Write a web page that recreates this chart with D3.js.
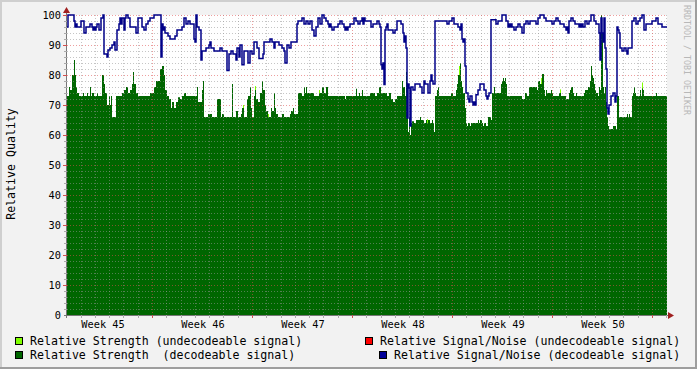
<!DOCTYPE html>
<html><head><meta charset="utf-8">
<script src="https://cdn.jsdelivr.net/npm/d3@7"></script>
<style>html,body{margin:0;padding:0;background:#f2f2f2;}svg{display:block;}</style>
</head><body><svg id="c" width="697" height="369"></svg>
<script>
// ---- data (sample index = one RRD step of 1.68 h from the start time) ----
const startTime = Date.UTC(2023, 10, 7, 1, 12);
const sampleHours = 1.68;
const sampleCount = 600;

const strengthAt = [0,2,3,5,7,8,9,10,12,16,17,20,21,23,24,25,27,30,31,35,37,38,40,42,43,44,45,49,55,57,59,61,63,65,66,67,69,71,83,87,89,93,95,97,98,100,102,104,105,107,109,111,113,115,117,119,130,131,135,136,137,141,145,150,154,155,157,165,166,169,171,174,175,177,180,181,183,184,185,187,188,189,191,193,195,196,198,199,201,204,205,207,208,209,211,215,217,223,224,226,227,231,235,237,238,239,240,247,252,255,257,259,261,278,279,289,290,292,293,295,296,303,308,310,312,314,320,322,324,326,328,330,335,336,338,339,340,341,342,343,344,345,347,349,353,354,357,359,360,361,363,365,366,367,368,370,371,372,384,386,389,390,391,393,394,395,396,398,399,400,401,403,404,411,412,413,415,416,417,419,421,424,425,427,428,434,435,436,437,438,439,440,455,458,460,462,470,471,473,475,477,478,479,480,484,485,486,492,494,495,499,502,503,504,506,507,509,510,517,518,521,523,524,525,526,527,528,529,531,532,533,534,535,536,537,538,539,540,541,542,546,549,550,552,560,561,562,563,565,566,567,568,569,573,574,575,576,577,589,590];
const strengthVal = [73,76,75,80,85,80,76,74,73,74,73,74,73,76,73,74,73,74,73,80,77,74,70,73,70,73,66,73,74,75,76,74,75,77,81,77,74,73,74,76,78,82,83,80,75,73,72,69,71,69,71,72.6,72,73,74,73,76,71,75,78,66,67,66,72,66,67,66,77,66,68,66,67,69,66,72,73,76,69,66,73,75,72,71,74,78,75,70,68,66,69,68,74,69,67,66,67,66,67,68,69,67,74,73,76,74,76,74,73,74,76,74,76,73,72,73,75.4,73,74,73,75,73,74,73,74,76,74,73,74,72,71,72,73,78,76,73,81,69,61,66,60,64,64.6,64,65,66,65,64,65,64,65,64,65,64,61,73,75,76,73,74,73,75,77,80,84,78,76,74,69,64,63,64,63,64,65,64,65,64,63,64,63,66,65,74,76,74,77,78,79,78,79,77,73,72,74,73,76,75,78,77,80.3,75,73,75,74,75,74,73,74,73,73,72,74,75,76,74,73,74,73,74,75,76,78,83,80,79,77,75,74,73,76,75,100,94,76,74,76,71,66,63,62,63,62,73,66,67,66,67,66,73,74,76,74,73,75,73,75.5,75,73,74,73];

const weakAt  = [176, 188, 201, 252, 360, 392, 474, 493, 575];
const weakVal = [70, 76.3, 67, 75, 65.3, 83, 79, 75.2, 77.5];

const snrAt = [0,1,7,8,9,10,14,17,19,23,25,26,27,28,29,30,32,34,36,37,40,41,43,45,47,48,50,52,53,54,55,57,58,59,61,63,69,71,75,77,79,81,83,87,94,95,96,97,98,101,103,108,110,115,117,119,121,123,127,128,129,130,132,134,135,139,142,143,144,147,153,155,160,162,164,166,169,170,172,173,175,177,181,183,185,187,190,192,196,197,203,205,207,208,212,215,217,218,220,222,224,230,231,235,237,239,241,243,245,247,249,251,253,255,257,259,261,262,263,264,265,267,271,273,275,277,278,279,280,281,283,287,289,291,293,295,296,297,298,304,306,310,312,313,314,315,316,317,318,319,320,321,326,328,330,334,336,337,338,339,340,341,342,343,344,346,348,353,355,357,358,361,363,364,365,366,368,380,382,385,387,391,393,394,395,396,397,398,399,401,402,403,405,406,407,408,409,411,413,417,419,420,421,422,424,429,431,435,439,441,442,443,444,445,447,449,451,453,455,457,459,461,463,469,471,473,477,479,485,487,489,491,493,497,499,500,501,502,504,506,508,512,513,514,515,516,518,520,522,524,527,529,532,533,534,535,536,537,538,539,540,541,542,544,546,548,549,550,551,552,553,555,557,559,560,561,565,567,569,571,573,575,577,579,585,589,591,595];
const snrVal = [96,100,98,96,97,96,98,94,96,97,96,95,96,95,96,97,95,99,100,87,86,88.3,89,90,91,88.3,95,97,99,97,99,95,99,100,99,96,94,99,96,95,97,98,99,100,86,97,95,96,94,93,92,93,95,96,99,97,98,97,92,91,100,96,95,85,88,89,90,91,89,88,89,88,81.5,87,88,87,85,89,86,90,83.4,88,84,88,87,91,89,85.5,87,91,92,91,89,91,90,89,88,84,90,89,91,97,98,99,97,98,97,98,95,93,96,99,97,100,99,98,97,96,97,96,95,96,97,98,97,96,95,96,95,96,97,99,98,97,98,99,97,99,98,96,97,98,97,96,83.4,82,84,76.8,95,96,97,95,94,95,98,97,94,91,93,89,65.7,77,75.7,63,76,75,77,76,74,78,77,74,78,80,78,77,98,97,98,99,97,96,95,97,92,91,92,83,74,72,71,73,71,70,71,70,73.4,75,77,75,73,72,73,74,98.4,97,98,100,98,96,97,96,97,96,95,96,97,96,94,97,98,97,98,97,99,100,99,98,97,98,99,98,97,96,95,96,94,98,99,98,97,96,97,96,97,96,98,97,98,100,98,97,94,85,99,94,91,99,89,82,69,67,70,73,74,71,73,96,95,94,89,88,89,88,87,89,98,99,97,98,99,100,95,97,98,99,97,96];

const yTickValues = [0,10,20,30,40,50,60,70,80,90,100];
const legendItems = [
  {label: "Relative Strength (undecodeable signal)", color: "#80ff00", col: 0, row: 0},
  {label: "Relative Signal/Noise (undecodeable signal)", color: "#ff0000", col: 1, row: 0},
  {label: "Relative Strength  (decodeable signal)", color: "#006600", col: 0, row: 1},
  {label: "Relative Signal/Noise (decodeable signal)", color: "#000099", col: 2, row: 1}
];
const yTitle = "Relative Quality";
const watermark = "RRDTOOL / TOBI OETIKER";

// ---- helpers ----
const HOUR = 3600e3;
const t = i => new Date(startTime + i * sampleHours * HOUR);
function steps(at, val) {
  const pts = at.map((a, k) => ({i: a, v: val[k]}));
  pts.push({i: sampleCount, v: val[val.length - 1]});
  return pts;
}

const svg = d3.select("#c");
const W = 697, H = 369;
const L = 67, R = 667, T = 15, B = 315;
const x = d3.scaleUtc().domain([t(0), t(sampleCount)]).range([L, R]);
const y = d3.scaleLinear().domain([0, 100]).range([B, T]);
const FONT = "'DejaVu Sans Mono', monospace";

// background + frame
svg.append("rect").attr("width", W).attr("height", H).attr("fill", "#f2f2f2");
svg.append("rect").attr("x", 0).attr("y", 0).attr("width", W).attr("height", 2).attr("fill", "#cfcfcf");
svg.append("rect").attr("x", 0).attr("y", 0).attr("width", 2).attr("height", H).attr("fill", "#cfcfcf");
svg.append("rect").attr("x", 0).attr("y", H - 2).attr("width", W).attr("height", 2).attr("fill", "#9e9e9e");
svg.append("rect").attr("x", W - 2).attr("y", 0).attr("width", 2).attr("height", H).attr("fill", "#9e9e9e");

// canvas
svg.append("rect").attr("x", L).attr("y", T).attr("width", R - L).attr("height", B - T).attr("fill", "#ffffff");

// undecodeable strength (underneath)
svg.append("g").selectAll("rect").data(weakAt.map((a, k) => ({i: a, v: weakVal[k]}))).join("rect")
  .attr("x", d => x(t(d.i))).attr("width", d => x(t(d.i + 1)) - x(t(d.i)))
  .attr("y", d => y(d.v)).attr("height", d => y(0) - y(d.v)).attr("fill", "#80ff00");

// decodeable strength area
const area = d3.area().curve(d3.curveStepAfter)
  .x(d => x(t(d.i))).y0(y(0)).y1(d => y(d.v));
svg.append("path").datum(steps(strengthAt, strengthVal)).attr("d", area).attr("fill", "#006600");

// grid
const grid = svg.append("g").attr("shape-rendering", "crispEdges");
const minorY = d3.range(2, 100, 2).filter(v => v % 10 !== 0);
const majorY = yTickValues.filter(v => v > 0);
const days = d3.utcDay.range(t(0), t(sampleCount)).filter(d => d.getUTCDay() !== 1);
const mondays = d3.utcMonday.range(t(0), t(sampleCount));
const gridCol = "rgba(150,150,150,0.55)", mgridCol = "rgba(222,79,79,0.55)";
grid.selectAll(".hy").data(minorY).join("line")
  .attr("x1", L).attr("x2", R).attr("y1", d => Math.round(y(d)) + 0.5).attr("y2", d => Math.round(y(d)) + 0.5)
  .attr("stroke", gridCol).attr("stroke-dasharray", "1,2");
grid.selectAll(".vx").data(days).join("line")
  .attr("y1", T).attr("y2", B).attr("x1", d => Math.round(x(d)) + 0.5).attr("x2", d => Math.round(x(d)) + 0.5)
  .attr("stroke", gridCol).attr("stroke-dasharray", "1,2");
grid.selectAll(".my").data(majorY).join("line")
  .attr("x1", L).attr("x2", R).attr("y1", d => Math.round(y(d)) + 0.5).attr("y2", d => Math.round(y(d)) + 0.5)
  .attr("stroke", mgridCol).attr("stroke-dasharray", "1,2");
grid.selectAll(".mx").data(mondays).join("line")
  .attr("y1", T).attr("y2", B).attr("x1", d => Math.round(x(d)) + 0.5).attr("x2", d => Math.round(x(d)) + 0.5)
  .attr("stroke", mgridCol).attr("stroke-dasharray", "1,2");

// SNR line
const line = d3.line().curve(d3.curveStepAfter).x(d => x(t(d.i))).y(d => y(d.v));
svg.append("path").datum(steps(snrAt, snrVal)).attr("d", line)
  .attr("fill", "none").attr("stroke", "#000088").attr("stroke-width", 1.5);

// axes
const ax = svg.append("g").attr("shape-rendering", "crispEdges");
ax.append("line").attr("x1", L - 0.5).attr("x2", L - 0.5).attr("y1", B + 3).attr("y2", T - 4).attr("stroke", "#777");
ax.append("line").attr("x1", L - 3).attr("x2", R + 3).attr("y1", B + 0.5).attr("y2", B + 0.5).attr("stroke", "#777");
ax.selectAll(".ty").data(minorY).join("line")
  .attr("x1", L - 3).attr("x2", L).attr("y1", d => Math.round(y(d)) + 0.5).attr("y2", d => Math.round(y(d)) + 0.5)
  .attr("stroke", "#aaa");
ax.selectAll(".tY").data(majorY).join("line")
  .attr("x1", L - 4).attr("x2", L).attr("y1", d => Math.round(y(d)) + 0.5).attr("y2", d => Math.round(y(d)) + 0.5)
  .attr("stroke", "#d05050");
ax.selectAll(".tx").data(days).join("line")
  .attr("y1", B).attr("y2", B + 3).attr("x1", d => Math.round(x(d)) + 0.5).attr("x2", d => Math.round(x(d)) + 0.5)
  .attr("stroke", "#aaa");
ax.selectAll(".tX").data(mondays).join("line")
  .attr("y1", B).attr("y2", B + 3).attr("x1", d => Math.round(x(d)) + 0.5).attr("x2", d => Math.round(x(d)) + 0.5)
  .attr("stroke", "#d05050");
// arrows
svg.append("path").attr("d", `M${L - 4},${T - 2} L${L + 3},${T - 2} L${L - 0.5},${T - 8} Z`).attr("fill", "#a02020");
svg.append("path").attr("d", `M${R + 1},${B - 3} L${R + 1},${B + 4} L${R + 7},${B + 0.5} Z`).attr("fill", "#a02020");

// y labels
svg.append("g").selectAll("text").data(yTickValues).join("text")
  .attr("x", 61).attr("y", d => y(d)).attr("dy", "0.36em").attr("text-anchor", "end")
  .attr("font-family", FONT).attr("font-size", "10.3px").attr("fill", "#000").text(d => d);

// week labels
const wfmt = d3.utcFormat("Week %V");
const weekStarts = d3.utcMonday.range(d3.utcMonday.floor(t(0)), t(sampleCount));
svg.append("g").selectAll("text").data(weekStarts.filter(m => x(d3.utcHour.offset(m, 84)) < R)).join("text")
  .attr("x", m => x(d3.utcHour.offset(m, 84)) + 1).attr("y", 328).attr("text-anchor", "middle")
  .attr("font-family", FONT).attr("font-size", "10.3px").attr("fill", "#000").text(m => wfmt(m));

// y title
svg.append("text").attr("transform", "translate(15,164) rotate(-90)").attr("text-anchor", "middle")
  .attr("font-family", FONT).attr("font-size", "11.6px").attr("fill", "#000").text(yTitle);

// watermark
svg.append("text").attr("transform", "translate(684,5) rotate(90)").attr("text-anchor", "start")
  .attr("font-family", FONT).attr("font-size", "8.3px").attr("fill", "#b8b8b8").text(watermark);

// legend
const colX = [{box: 15, text: 30}, {box: 365, text: 380}, {box: 379, text: 394}];
const rowY = [{box: 337, text: 345}, {box: 351, text: 359}];
const lg = svg.append("g");
legendItems.forEach(it => {
  lg.append("rect").attr("x", colX[it.col].box + 0.5).attr("y", rowY[it.row].box + 0.5).attr("width", 7).attr("height", 7)
    .attr("fill", it.color).attr("stroke", "#000").attr("stroke-width", 1);
  lg.append("text").attr("x", colX[it.col].text).attr("y", rowY[it.row].text)
    .attr("font-family", FONT).attr("font-size", "11.6px").attr("fill", "#000")
    .attr("xml:space", "preserve").style("white-space", "pre").text(it.label);
});
</script></body></html>
